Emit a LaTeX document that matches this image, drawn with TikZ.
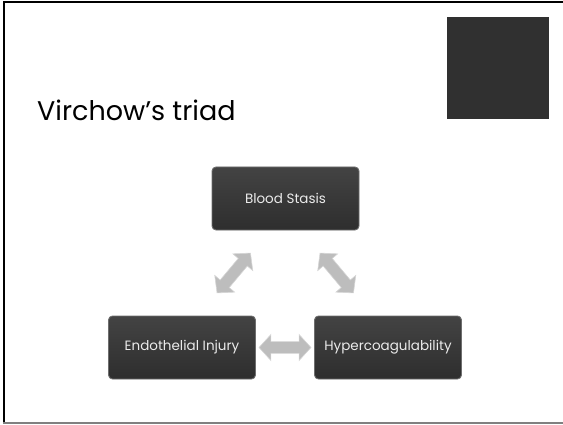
\documentclass[tikz,border=0pt]{standalone}
\usepackage{fontspec}
\setmainfont{Poppins}
\usetikzlibrary{shapes.arrows,calc}

\definecolor{boxdark}{HTML}{333333}
\definecolor{boxedge}{HTML}{6E6E6E}
\definecolor{arrowgray}{HTML}{BDBDBD}
\definecolor{arrowedge}{HTML}{D6D6D6}

\tikzset{
    triadbox/.style={rectangle, rounded corners=4pt, top color=boxdark!92!white, bottom color=boxdark!90!black,
        draw=boxedge, line width=0.9pt, minimum width=147pt, minimum height=63pt,
        text=white!92!black, font=\fontsize{13.5}{15}\selectfont, inner sep=2pt},
    triadarrow/.style={double arrow, fill=arrowgray, draw=arrowedge, line width=0.6pt,
        minimum width=26pt, minimum height=52pt, double arrow head extend=7pt,
        inner sep=5.5pt, double arrow tip angle=95}
}

\begin{document}
\begin{tikzpicture}[x=1pt,y=1pt]

    % Page size and frame
    \useasboundingbox (0,0) rectangle (563,424);
    \draw[line width=2pt] (4,2) -- (4,422) -- (563,422);
    \draw[gray, line width=1.5pt] (3,1) -- (563,1);

    % Dark square in the top right corner
    \fill[boxdark!95!black] (447,305) rectangle (549,407);

    % Title
    \node[anchor=base west, inner sep=0pt, font=\fontsize{27}{30}\selectfont] (title) at (37,303) {Virchow’s triad};

    % Key points of the triad
    \coordinate (B) at (285.5,225.5);
    \coordinate (E) at (182,76.5);
    \coordinate (H) at (388,76.5);

    % The three boxes
    \node[triadbox] (stasis) at (B) {Blood Stasis};
    \node[triadbox] (injury) at (E) {Endothelial Injury};
    \node[triadbox] (hyper) at (H) {Hypercoagulability};

    % Double arrows between the boxes
    \node[triadarrow] (ab) at ($(injury)!0.5!(hyper)$) {};
    \node[triadarrow, rotate=50] (al) at ($(injury)!0.5!(stasis)$) {};
    \node[triadarrow, rotate=-50] (ar) at ($(hyper)!0.5!(stasis)$) {};

\end{tikzpicture}
\end{document}
